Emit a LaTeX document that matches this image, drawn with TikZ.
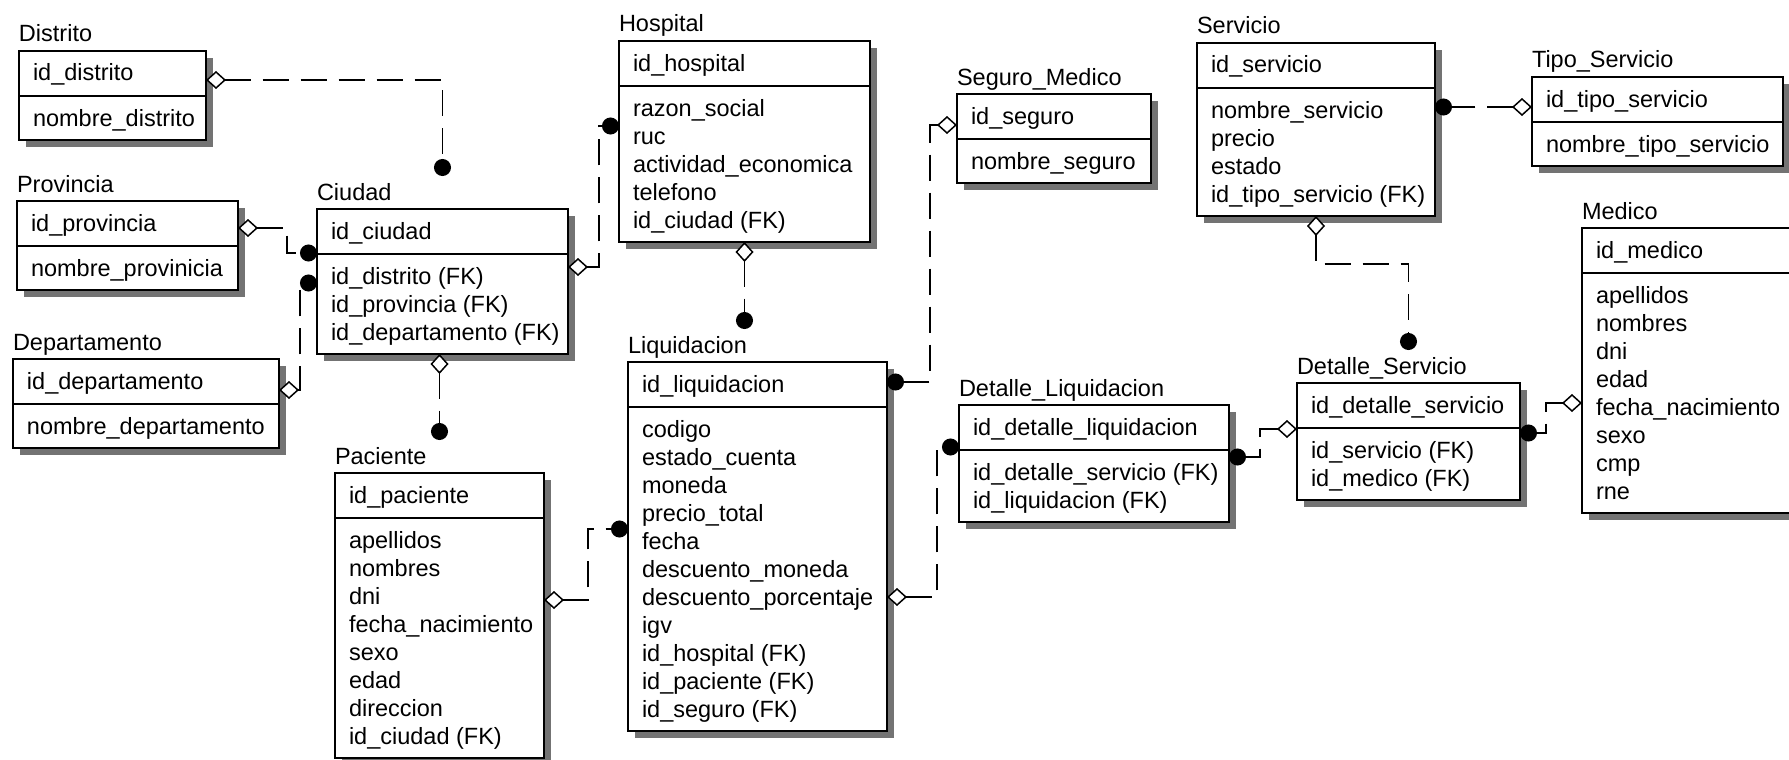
\documentclass[tikz,border=0pt]{standalone}
\usepackage{fontspec}
\setmainfont{Liberation Sans}
\usetikzlibrary{arrows.meta,calc}

\tikzset{
  ertext/.style={font=\fontsize{23.5}{28}\selectfont, inner sep=0pt, outer sep=0pt, anchor=base west, text=black},
  erbox/.style={draw=black, line width=2pt, fill=white, inner sep=0pt, outer sep=0pt, anchor=north west},
  ershadow/.style={fill=black!55},
  erline/.style={line width=2pt},
  rel/.style={line width=1.7pt, dash pattern=on 26pt off 12pt,
    arrows={Diamond[fill=white, length=20pt, width=18pt, line width=1.5pt]-Circle[length=17pt]}},
}

% \ertable{name}{x}{y}{width}{attribute count}{title}{key}{attributes}
\newcommand\ertable[8]{%
  \pgfmathsetmacro\erheight{89+28*(#5-1)}
  \fill[ershadow] (#2+7,#3+7) rectangle (#2+#4+7,#3+\erheight+7);
  \node[erbox, minimum width=#4pt, minimum height=\erheight pt] (#1) at (#2,#3) {};
  \draw[erline] ($(#1.north west)+(0,45)$) -- ($(#1.north east)+(0,45)$);
  \node[ertext] (#1-title) at ($(#1.north west)+(0,-9)$) {#6};
  \node[ertext] (#1-key) at ($(#1.north west)+(14,30)$) {#7};
  \foreach \attr [count=\ai] in {#8}
    \node[ertext] (#1-a\ai) at ($(#1.north west)+(14,47+28*\ai)$) {\attr};
}

\begin{document}
\begin{tikzpicture}[x=1pt, y=-1pt]
  \path[use as bounding box, fill=white] (0,0) rectangle (1789,760);

  \ertable{distrito}{19}{51}{187}{1}{Distrito}{id\_distrito}{nombre\_distrito}
  \ertable{provincia}{17}{201}{221}{1}{Provincia}{id\_provincia}{nombre\_provinicia}
  \ertable{departamento}{13}{359}{266}{1}{Departamento}{id\_departamento}{nombre\_departamento}
  \ertable{ciudad}{317}{209}{251}{3}{Ciudad}{id\_ciudad}{id\_distrito (FK), id\_provincia (FK), id\_departamento (FK)}
  \ertable{hospital}{619}{41}{251}{5}{Hospital}{id\_hospital}{razon\_social, ruc, actividad\_economica, telefono, id\_ciudad (FK)}
  \ertable{seguro}{957}{94}{194}{1}{Seguro\_Medico}{id\_seguro}{nombre\_seguro}
  \ertable{servicio}{1197}{43}{238}{4}{Servicio}{id\_servicio}{nombre\_servicio, precio, estado, id\_tipo\_servicio (FK)}
  \ertable{tipo}{1532}{77}{251}{1}{Tipo\_Servicio}{id\_tipo\_servicio}{nombre\_tipo\_servicio}
  \ertable{medico}{1582}{228}{230}{8}{Medico}{id\_medico}{apellidos, nombres, dni, edad, fecha\_nacimiento, sexo, cmp, rne}
  \ertable{liquidacion}{628}{362}{259}{11}{Liquidacion}{id\_liquidacion}{codigo, estado\_cuenta, moneda, precio\_total, fecha, descuento\_moneda, descuento\_porcentaje, igv, id\_hospital (FK), id\_paciente (FK), id\_seguro (FK)}
  \ertable{detliq}{959}{405}{270}{2}{Detalle\_Liquidacion}{id\_detalle\_liquidacion}{id\_detalle\_servicio (FK), id\_liquidacion (FK)}
  \ertable{detserv}{1297}{383}{223}{2}{Detalle\_Servicio}{id\_detalle\_servicio}{id\_servicio (FK), id\_medico (FK)}
  \ertable{paciente}{335}{473}{209}{8}{Paciente}{id\_paciente}{apellidos, nombres, dni, fecha\_nacimiento, sexo, edad, direccion, id\_ciudad (FK)}

  % relationships: open diamond at the parent, filled dot at the child
  \draw[rel] ($(distrito.north east)+(0,29)$) -| ($(ciudad.north)+(0,-33)$);
  \draw[rel] ($(provincia.north east)+(0,27)$) -- ++(49,0) |- ($(ciudad.north west)+(0,44)$);
  \draw[rel] ($(departamento.north east)+(0,31)$) -- ++(21,0) |- ($(ciudad.north west)+(0,74)$);
  \draw[rel] ($(ciudad.north east)+(0,58)$) -- ++(31,0) |- ($(hospital.north west)+(0,85)$);
  \draw[rel] (hospital.south) -- ($(hospital.south |- liquidacion.north)+(0,-33)$);
  \draw[rel] ($(seguro.north west)+(0,31)$) -- ++(-27,0) |- ($(liquidacion.north east)+(0,20)$);
  \draw[rel] (paciente.north |- ciudad.south) -- ($(paciente.north)+(0,-33)$);
  \draw[rel] ($(paciente.north east)+(0,127)$) -- ++(44,0) |- ($(liquidacion.north west)+(0,167)$);
  \draw[rel] ($(liquidacion.north east)+(0,235)$) -- ++(50,0) |- ($(detliq.north west)+(0,42)$);
  \draw[rel] ($(detserv.north west)+(0,46)$) -- ++(-37,0) |- ($(detliq.north east)+(0,52)$);
  \draw[rel] ($(medico.north west)+(0,175)$) -- ++(-36,0) |- ($(detserv.north east)+(0,50)$);
  \draw[rel] (servicio.south) -- ++(0,48) -| ($(detserv.north)+(0,-33)$);
  \draw[rel] ($(tipo.north west)+(0,30)$) -- ($(servicio.north east)+(0,64)$);
\end{tikzpicture}
\end{document}
